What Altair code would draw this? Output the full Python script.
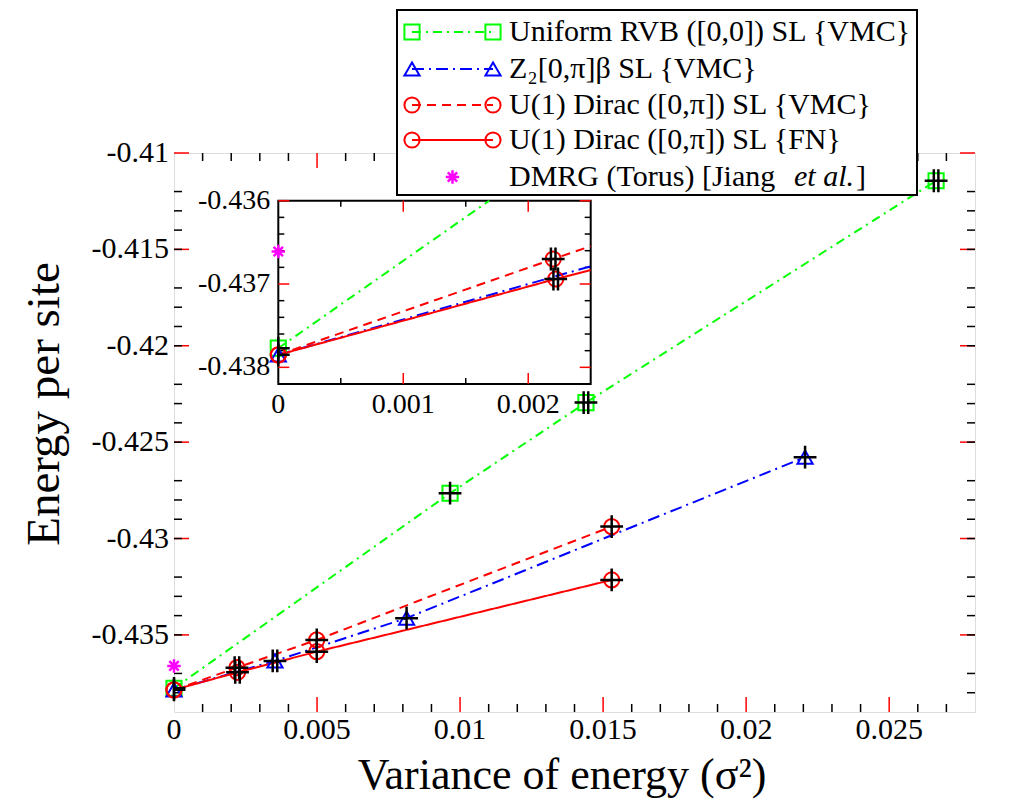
import altair as alt
import pandas as pd

FONT = "Liberation Serif"
W, H = 801, 559

# ---------------- data ----------------
series = ["rvb", "z2", "u1vmc", "u1fn"]
series_colors = ["#00ff00", "#0000ff", "#ff0000", "#ff0000"]
series_dash = [[9, 5, 2, 5], [12, 5, 2, 5], [9, 6], [1, 0]]
series_shapes = ["square", "triangle-up", "circle", "circle"]

rvb_x = [0.0, 0.00965, 0.0144, 0.02664]
rvb_y = [-0.43777, -0.42765, -0.42295, -0.41144]
z2_x = [0.0, 0.00353, 0.00813, 0.02206]
z2_y = [-0.43785, -0.43635, -0.43413, -0.42578]
vmc_x = [0.0, 0.0022, 0.00499, 0.0153]
vmc_y = [-0.43785, -0.4367, -0.43526, -0.42938]
fn_x = [0.0, 0.00222, 0.00499, 0.0153]
fn_y = [-0.43785, -0.43694, -0.43587, -0.43215]
dmrg_x = [0.0]
dmrg_y = [-0.43661]

# black "+" glyphs drawn on the points
cross1_x = [0.00965, 0.00813, 0.02206, 0.00499, 0.00499, 0.0153, 0.0153]
cross1_y = [-0.42765, -0.43413, -0.42578, -0.43526, -0.43587, -0.42938, -0.43215]
cross2_x = [0.0144, 0.02664, 0.00353, 0.0022, 0.00222]
cross2_y = [-0.42295, -0.41144, -0.43635, -0.4367, -0.43694]
cross0_x = [0.0, 0.0]
cross0_y = [-0.43777, -0.43785]

# axes
main_xdom = [0.0, 0.028]
main_ydom = [-0.439, -0.41]
main_xmajor = [0.0, 0.005, 0.01, 0.015, 0.02, 0.025]
main_xlabels = ["0", "0.005", "0.01", "0.015", "0.02", "0.025"]
main_ymajor = [-0.435, -0.43, -0.425, -0.42, -0.415, -0.41]
main_ylabels = ["-0.435", "-0.43", "-0.425", "-0.42", "-0.415", "-0.41"]
inset_xdom = [0.0, 0.0025]
inset_ydom = [-0.4382, -0.436]
inset_xmajor = [0.0, 0.001, 0.002]
inset_xlabels = ["0", "0.001", "0.002"]
inset_ymajor = [-0.438, -0.437, -0.436]
inset_ylabels = ["-0.438", "-0.437", "-0.436"]

legend_labels = [
    "Uniform RVB ([0,0]) SL {VMC}",
    "Z\u2082[0,\u03c0]\u03b2 SL {VMC}",
    "U(1) Dirac ([0,\u03c0]) SL {VMC}",
    "U(1) Dirac ([0,\u03c0]) SL {FN}",
]
dmrg_label = ["DMRG (Torus) [Jiang", "et al.", "]"]

x_title = "Variance of energy (\u03c3\u00b2)"
y_title = "Energy per site"

# minor tick values
main_xminor = [round(i * 0.001, 4) for i in range(1, 28) if i % 5]
main_yminor = [round(-0.438 + i * 0.001, 4) for i in range(0, 28) if (i + 3) % 5]
inset_xminor = [0.0005, 0.0015]
inset_yminor = [round(-0.438 + i * 0.0002, 5) for i in range(-1, 11) if i % 5]

# ---------------- helpers ----------------
IN_L, IN_R, IN_T, IN_B = 104.3, 416.7, 47.7, 231.0
XTICK_FS = 30
YTICK_FS = 30
INSET_FS = 28
XTITLE_FS = 44
YTITLE_FS = 47
LEG_FS = 30

color_scale = alt.Scale(domain=series, range=series_colors)
dash_scale = alt.Scale(domain=series, range=series_dash)
shape_scale = alt.Scale(domain=series, range=series_shapes)

xs_main = alt.Scale(domain=main_xdom, nice=False, zero=False)
ys_main = alt.Scale(domain=main_ydom, nice=False, zero=False)
xs_in = alt.Scale(domain=inset_xdom, range=[IN_L, IN_R], nice=False, zero=False)
ys_in = alt.Scale(domain=inset_ydom, range=[IN_B, IN_T], nice=False, zero=False)

all_x = [rvb_x, z2_x, vmc_x, fn_x]
all_y = [rvb_y, z2_y, vmc_y, fn_y]


def clip_series(xs, ys, xlo, xhi, ylo, yhi):
    out = []
    for i in range(len(xs) - 1):
        x0, y0, x1, y1 = xs[i], ys[i], xs[i + 1], ys[i + 1]
        dx, dy = x1 - x0, y1 - y0
        t0, t1 = 0.0, 1.0
        ok = True
        for p, q in ((-dx, x0 - xlo), (dx, xhi - x0), (-dy, y0 - ylo), (dy, yhi - y0)):
            if p == 0:
                if q < 0:
                    ok = False
                    break
            else:
                r = q / p
                if p < 0:
                    if r > t1:
                        ok = False
                        break
                    t0 = max(t0, r)
                else:
                    if r < t0:
                        ok = False
                        break
                    t1 = min(t1, r)
        if ok:
            a = (x0 + t0 * dx, y0 + t0 * dy)
            b = (x0 + t1 * dx, y0 + t1 * dy)
            if not out or abs(out[-1][0] - a[0]) > 1e-12 or abs(out[-1][1] - a[1]) > 1e-12:
                out.append(a)
            out.append(b)
    return out


def lines_df(clip=None):
    rows = []
    for s, xs, ys in zip(series, all_x, all_y):
        pts = list(zip(xs, ys)) if clip is None else clip_series(xs, ys, *clip)
        for k, (x, y) in enumerate(pts):
            rows.append({"x": x, "y": y, "s": s, "o": k})
    return pd.DataFrame(rows)


def points_df(box=None):
    rows = []
    for s, xs, ys in zip(series, all_x, all_y):
        for x, y in zip(xs, ys):
            if box is None or (box[0] <= x <= box[1] and box[2] <= y <= box[3]):
                rows.append({"x": x, "y": y, "s": s})
    return pd.DataFrame(rows)


def xy_df(xs, ys, box=None):
    rows = [{"x": x, "y": y} for x, y in zip(xs, ys)
            if box is None or (box[0] <= x <= box[1] and box[2] <= y <= box[3])]
    return pd.DataFrame(rows if rows else [{"x": None, "y": None}])


def tick_layers(xmaj, xmin, ymaj, ymin, xs, ys, box, lmaj, lmin):
    L, R, T, B = box
    out = []
    for vals, col, ln in ((xmaj, "#ff0000", lmaj), (xmin, "black", lmin)):
        d = pd.DataFrame({"v": vals})
        xe = alt.X("v:Q", scale=xs, axis=None)
        out.append(alt.Chart(d).mark_rule(color=col, strokeWidth=1.5).encode(
            x=xe, y=alt.value(B), y2=alt.value(B - ln)))
        out.append(alt.Chart(d).mark_rule(color=col, strokeWidth=1.5).encode(
            x=xe, y=alt.value(T), y2=alt.value(T + ln)))
    for vals, col, ln in ((ymaj, "#ff0000", lmaj), (ymin, "black", lmin)):
        d = pd.DataFrame({"v": vals})
        ye = alt.Y("v:Q", scale=ys, axis=None)
        out.append(alt.Chart(d).mark_rule(color=col, strokeWidth=1.5).encode(
            y=ye, x=alt.value(L), x2=alt.value(L + ln)))
        out.append(alt.Chart(d).mark_rule(color=col, strokeWidth=1.5).encode(
            y=ye, x=alt.value(R), x2=alt.value(R - ln)))
    return out


def label_layers(xvals, xlabs, yvals, ylabs, xs, ys, xlab_y, ylab_x, xfs, yfs):
    dx = pd.DataFrame({"v": xvals, "t": xlabs})
    dy = pd.DataFrame({"v": yvals, "t": ylabs})
    return [
        alt.Chart(dx).mark_text(font=FONT, fontSize=xfs, color="black", align="center",
                                baseline="top").encode(
            x=alt.X("v:Q", scale=xs, axis=None), y=alt.value(xlab_y), text="t:N"),
        alt.Chart(dy).mark_text(font=FONT, fontSize=yfs, color="black", align="right",
                                baseline="middle").encode(
            y=alt.Y("v:Q", scale=ys, axis=None), x=alt.value(ylab_x), text="t:N"),
    ]


CROSS1 = "M-1,0H1M0,-1V1"
CROSS2 = "M-1,0H1M-0.2,-1V1M0.2,-1V1"
CROSS0 = "M0,0H1M0,-1V1"
STAR = "M-1,0H1M0,-1V1M-0.7,-0.7L0.7,0.7M-0.7,0.7L0.7,-0.7"


def data_layers(xs, ys, clip=None, box=None):
    xq = lambda: alt.X("x:Q", scale=xs, axis=None)
    yq = lambda: alt.Y("y:Q", scale=ys, axis=None)
    layers = []
    layers.append(alt.Chart(lines_df(clip)).mark_line(strokeWidth=2).encode(
        x=xq(), y=yq(),
        color=alt.Color("s:N", scale=color_scale, legend=None),
        strokeDash=alt.StrokeDash("s:N", scale=dash_scale, legend=None),
        detail="s:N", order="o:Q"))
    layers.append(alt.Chart(points_df(box)).mark_point(filled=False, strokeWidth=2, size=230, opacity=1).encode(
        x=xq(), y=yq(),
        color=alt.Color("s:N", scale=color_scale, legend=None),
        shape=alt.Shape("s:N", scale=shape_scale, legend=None)))
    for cx, cy, shp in ((cross1_x, cross1_y, CROSS1), (cross2_x, cross2_y, CROSS2), (cross0_x, cross0_y, CROSS0)):
        layers.append(alt.Chart(xy_df(cx, cy, box)).mark_point(
            shape=shp, filled=False, color="black", strokeWidth=2.5, size=520, opacity=1).encode(
            x=xq(), y=yq()))
    layers.append(alt.Chart(xy_df(dmrg_x, dmrg_y, box)).mark_point(
        shape=STAR, filled=False, color="#ff00ff", strokeWidth=2.5, size=180, opacity=1).encode(
        x=xq(), y=yq()))
    return layers


one = pd.DataFrame({"a": [0]})

# ---------------- main panel ----------------
titles = [
    alt.Chart(one).mark_text(text=x_title, font=FONT, fontSize=XTITLE_FS, color="black",
                             align="center", baseline="alphabetic").encode(
        x=alt.value(388), y=alt.value(H + 77)),
    alt.Chart(one).mark_text(text=y_title, font=FONT, fontSize=YTITLE_FS, color="black",
                             align="center", baseline="alphabetic", angle=270).encode(
        x=alt.value(-115), y=alt.value(251)),
]

main = alt.layer(
    *tick_layers(main_xmajor[1:], main_xminor, main_ymajor, main_yminor, xs_main, ys_main,
                 (0, W, 0, H), 15, 8),
    *data_layers(xs_main, ys_main),
    *label_layers(main_xmajor, main_xlabels, main_ymajor, main_ylabels, xs_main, ys_main,
                  H + 3, -5, XTICK_FS, YTICK_FS),
    *titles,
)

# ---------------- inset ----------------
box_df = pd.DataFrame({"x": [inset_xdom[0]], "x2": [inset_xdom[1]],
                       "y": [inset_ydom[0]], "y2": [inset_ydom[1]]})
inset_bg = alt.Chart(box_df).mark_rect(fill="white", stroke="black", strokeWidth=2).encode(
    x=alt.X("x:Q", scale=xs_in, axis=None), x2="x2:Q",
    y=alt.Y("y:Q", scale=ys_in, axis=None), y2="y2:Q")

inset_box = (inset_xdom[0], inset_xdom[1], inset_ydom[0], inset_ydom[1])
inset = alt.layer(
    inset_bg,
    *tick_layers(inset_xmajor[1:], inset_xminor, inset_ymajor, inset_yminor, xs_in, ys_in,
                 (IN_L, IN_R, IN_T, IN_B), 11, 6),
    *data_layers(xs_in, ys_in, clip=inset_box, box=inset_box),
    *label_layers(inset_xmajor, inset_xlabels, inset_ymajor, inset_ylabels, xs_in, ys_in,
                  IN_B + 7, IN_L - 8, INSET_FS, INSET_FS),
)

# ---------------- legend ----------------
LG_L, LG_R, LG_T, LG_B = 223, 743, -143, 42
row_y = [-121, -84, -48, -13, 24]
SYM_A, SYM_B, TXT_X = 238, 319, 335

leg = [alt.Chart(one).mark_rect(fill="white", stroke="black", strokeWidth=2).encode(
    x=alt.value(LG_L), x2=alt.value(LG_R), y=alt.value(LG_T), y2=alt.value(LG_B))]
for i, lab in enumerate(legend_labels):
    yy = row_y[i]
    leg.append(alt.Chart(one).mark_rule(color=series_colors[i], strokeWidth=2,
                                        strokeDash=series_dash[i]).encode(
        x=alt.value(SYM_A), x2=alt.value(SYM_B), y=alt.value(yy)))
    for xx in (SYM_A, SYM_B):
        leg.append(alt.Chart(one).mark_point(shape=series_shapes[i], filled=False, color=series_colors[i],
                                             strokeWidth=2, size=230, opacity=1).encode(
            x=alt.value(xx), y=alt.value(yy)))
    leg.append(alt.Chart(one).mark_text(text=lab, font=FONT, fontSize=LEG_FS, color="black",
                                        align="left", baseline="middle").encode(
        x=alt.value(TXT_X), y=alt.value(yy)))
yy = row_y[4]
leg.append(alt.Chart(one).mark_point(shape=STAR, filled=False, color="#ff00ff", strokeWidth=2.5,
                                     size=180, opacity=1).encode(
    x=alt.value((SYM_A + SYM_B) / 2), y=alt.value(yy)))
leg.append(alt.Chart(one).mark_text(text=dmrg_label[0], font=FONT, fontSize=LEG_FS, color="black",
                                    align="left", baseline="middle").encode(
    x=alt.value(TXT_X), y=alt.value(yy)))
leg.append(alt.Chart(one).mark_text(text=dmrg_label[1], font=FONT, fontSize=LEG_FS, color="black",
                                    fontStyle="italic", align="left", baseline="middle").encode(
    x=alt.value(620), y=alt.value(yy)))
leg.append(alt.Chart(one).mark_text(text=dmrg_label[2], font=FONT, fontSize=LEG_FS, color="black",
                                    align="left", baseline="middle").encode(
    x=alt.value(682), y=alt.value(yy)))
legend = alt.layer(*leg)

chart = alt.layer(main, inset, legend).resolve_scale(x="independent", y="independent").properties(
    width=W, height=H,
    padding={"left": 166, "top": 145, "right": 40, "bottom": 90},
    autosize=alt.AutoSizeParams(type="none"),
).configure_view(stroke="black", strokeWidth=2).configure(background="white")

chart.save("out.html", embed_options={"renderer": "svg", "actions": False})
